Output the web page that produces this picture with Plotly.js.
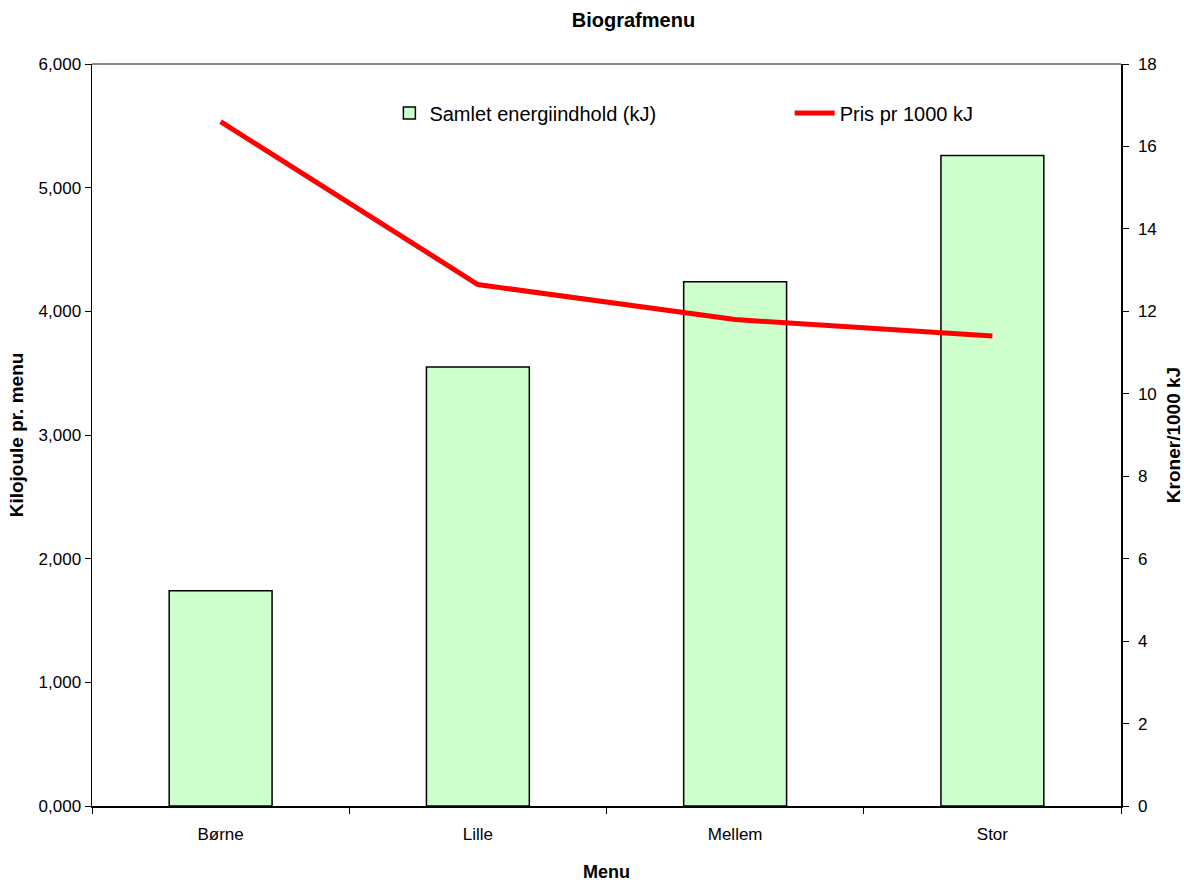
<!DOCTYPE html>
<html>
<head>
<meta charset="utf-8">
<script src="https://cdn.plot.ly/plotly-3.0.1.min.js"></script>
<style>html,body{margin:0;padding:0;background:#fff;}#chart{width:1184px;height:884px;}</style>
</head>
<body>
<div id="chart"></div>
<script>
const categories = ["Børne", "Lille", "Mellem", "Stor"];
const energy = [1740, 3550, 4240, 5260];
const price = [16.6, 12.65, 11.8, 11.4];
const leftTickVals = [0, 1000, 2000, 3000, 4000, 5000, 6000];
const leftTickText = ["0,000", "1,000", "2,000", "3,000", "4,000", "5,000", "6,000"];
const rightTickVals = [0, 2, 4, 6, 8, 10, 12, 14, 16, 18];

const font = "Liberation Sans, Arial, sans-serif";

const traces = [
  {
    type: "bar", x: categories, y: energy, name: "Samlet energiindhold (kJ)",
    marker: {color: "#CCFFCC", line: {color: "#000", width: 1.5}},
    width: 0.4, yaxis: "y", legend: "legend"
  },
  {
    type: "scatter", mode: "lines", x: categories, y: price, name: "Pris pr 1000 kJ",
    line: {color: "#FF0000", width: 5}, yaxis: "y2", legend: "legend2"
  }
];

const legendFont = {family: font, size: 20, color: "#000"};
const layout = {
  width: 1184, height: 884,
  margin: {l: 92, r: 63, t: 64, b: 78},
  paper_bgcolor: "#fff", plot_bgcolor: "#fff",
  font: {family: font, size: 17, color: "#000"},
  title: {text: "<b>Biografmenu</b>", font: {family: font, size: 20, color: "#000"}, x: 0.535, xanchor: "center", y: 0.977, yanchor: "middle"},
  showlegend: true,
  legend: {x: 0.289, y: 0.934, xanchor: "left", yanchor: "middle", font: legendFont, bgcolor: "rgba(0,0,0,0)", itemwidth: 30},
  legend2: {x: 0.678, y: 0.934, xanchor: "left", yanchor: "middle", font: legendFont, bgcolor: "rgba(0,0,0,0)", itemwidth: 40},
  xaxis: {
    showline: true, linecolor: "#000", linewidth: 1.5, showgrid: false, zeroline: false,
    ticks: "outside", ticklen: 6, tickcolor: "#000", tickson: "boundaries",
    ticklabelstandoff: 12,
    tickfont: {family: font, size: 17},
    title: {text: "<b>Menu</b>", font: {family: font, size: 18}, standoff: 22}
  },
  yaxis: {
    range: [0, 6000], tickvals: leftTickVals, ticktext: leftTickText,
    showline: true, linecolor: "#000", linewidth: 1.5, showgrid: false, zeroline: false,
    ticks: "outside", ticklen: 6, tickcolor: "#000",
    tickfont: {family: font, size: 17},
    title: {text: "<b>Kilojoule pr. menu</b>", font: {family: font, size: 19}, standoff: 10}
  },
  yaxis2: {
    range: [0, 18], tickvals: rightTickVals, overlaying: "y", side: "right",
    showline: true, linecolor: "#000", linewidth: 1.5, showgrid: false, zeroline: false,
    ticks: "outside", ticklen: 6, tickcolor: "#000", ticklabelstandoff: 6,
    tickfont: {family: font, size: 17},
    title: {text: "<b>Kroner/1000 kJ</b>", font: {family: font, size: 19}, standoff: 12}
  },
  shapes: [
    {type: "line", xref: "paper", yref: "paper", x0: 0, x1: 1, y0: 1, y1: 1, line: {color: "#888", width: 2}}
  ]
};

Plotly.newPlot("chart", traces, layout, {displayModeBar: false, staticPlot: true});
</script>
</body>
</html>
